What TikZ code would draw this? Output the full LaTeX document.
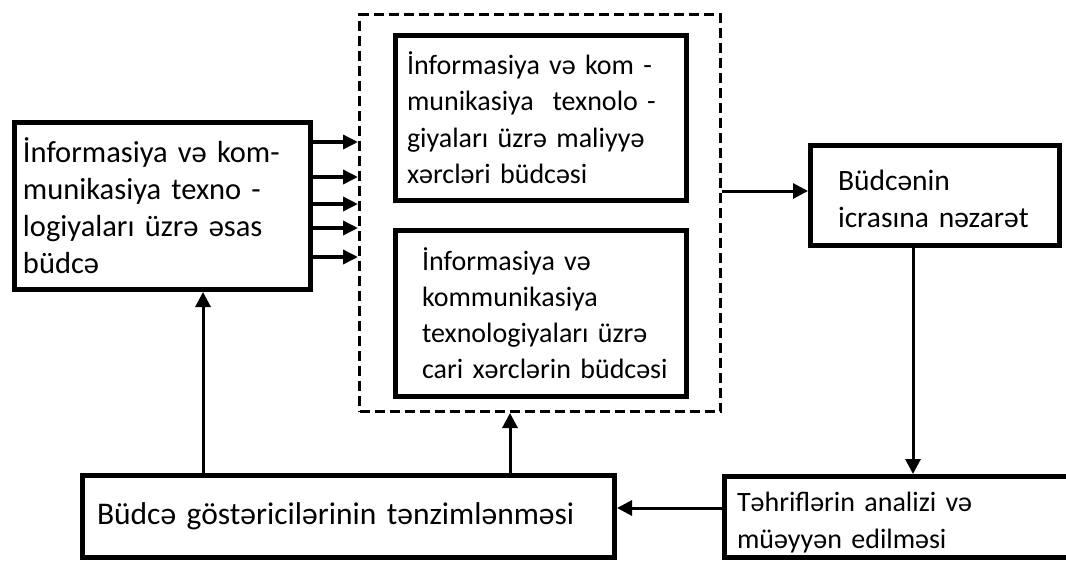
\documentclass[tikz,border=0pt]{standalone}
\usepackage{fontspec}
\setmainfont{Carlito}
\usetikzlibrary{arrows.meta}
\newcommand{\ind}[1]{\hspace*{#1}}
\newcommand{\nohy}{\hyphenpenalty=10000\relax\exhyphenpenalty=10000\relax}
\newcommand{\tightsp}[1]{\spaceskip=#1\relax}
\begin{document}
\begin{tikzpicture}[x=1pt,y=-1pt,
  box/.style={draw, line width=5pt, inner sep=0pt, align=left, fill=white,
    font=\fontsize{30.5}{37}\selectfont\nohy},
  grpbox/.style={draw, line width=3pt, dash pattern=on 10pt off 5pt, inner sep=0pt},
  arr/.style={line width=3pt, -{Triangle[length=15pt,width=15pt]}},
  arrb/.style={line width=3.5pt, -{Triangle[length=15pt,width=14pt]}}]
\useasboundingbox (0,0) rectangle (1066,563);
\clip (0,0) rectangle (1066,563);
\fill[white] (0,0) rectangle (1066,563);

\node[grpbox, minimum width=361pt, minimum height=397pt] (grp) at (540,213) {};

\node[box, minimum width=296pt, minimum height=167pt, text width=290pt] (main) at (162.5,206)
  {\ind{5.5pt}İnformasiya və kom-\\\ind{5.5pt}munikasiya texno -\\\ind{5.5pt}logiyaları üzrə əsas\\\ind{5.5pt}büdcə};

\node[box, minimum width=291pt, minimum height=165pt, text width=285pt,
  font=\fontsize{28}{36.5}\selectfont\tightsp{4.5pt}\nohy] (fin) at (540.5,117.5)
  {\ind{9pt}İnformasiya və kom -\\\ind{9pt}munikasiya\ \ texnolo -\\\ind{9pt}giyaları üzrə maliyyə\\\ind{9pt}xərcləri büdcəsi};

\node[box, minimum width=291pt, minimum height=166pt, text width=285pt,
  font=\fontsize{28}{36}\selectfont\tightsp{5pt}\nohy] (cur) at (540.5,313)
  {\ind{24pt}İnformasiya və\\\ind{24pt}kommunikasiya\\\ind{24pt}texnologiyaları üzrə\\\ind{24pt}cari xərclərin büdcəsi};

\node[box, minimum width=249pt, minimum height=100pt, text width=243pt,
  font=\fontsize{29.5}{37}\selectfont\nohy] (ctrl) at (935,195.5)
  {\ind{24.5pt}\rule{0pt}{27pt}Büdcənin\\\ind{24.5pt}icrasına nəzarət};

\node[box, minimum width=532pt, minimum height=82pt, text width=526pt,
  font=\fontsize{31.5}{37}\selectfont\nohy] (reg) at (348.5,516.5)
  {\ind{11.5pt}Büdcə göstəricilərinin tənzimlənməsi};

\node[box, minimum width=365.5pt, minimum height=81pt, text width=359.5pt,
  font=\fontsize{28}{37}\selectfont\nohy] (anl) at (907.25,517)
  {\ind{9.5pt}\rule{0pt}{31pt}Təhriflərin analizi və\\\ind{9.5pt}müəyyən edilməsi};

\foreach \yy in {142,177,204,228,257}
  \draw[arrb] (main.east |- 0,\yy) -- (grp.west |- 0,\yy);

\draw[arr] (grp.east |- 0,191) -- (ctrl.west |- 0,191);
\draw[arr] (ctrl.south -| 913,0) -- (anl.north -| 913,0);
\draw[arr] (anl.west |- 0,508) -- (reg.east |- 0,508);
\draw[arr] (reg.north -| 203,0) -- (main.south -| 203,0);
\draw[arr] (reg.north -| 510,0) -- (grp.south -| 510,0);
\end{tikzpicture}
\end{document}
